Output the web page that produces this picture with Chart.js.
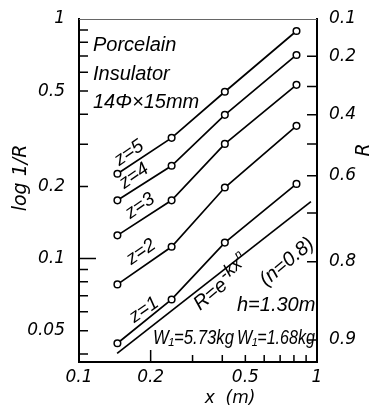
<!DOCTYPE html>
<html><head><meta charset="utf-8">
<script src="https://cdn.jsdelivr.net/npm/chart.js@4"></script>
<style>html,body{margin:0;padding:0;background:#fff}#wrap{width:374px;height:409px;position:relative}</style>
</head><body><div id="wrap"><canvas id="c" width="374" height="409"></canvas></div>
<script>
// ---- data ----
const xValues = [0.145, 0.245, 0.41, 0.82];
const z1 = [0.0443, 0.0675, 0.1166, 0.205];
const z2 = [0.078, 0.112, 0.198, 0.358];
const z3 = [0.125, 0.175, 0.301, 0.531];
const z4 = [0.175, 0.244, 0.398, 0.708];
const z5 = [0.226, 0.319, 0.497, 0.891];
const theoryX = [0.1446, 0.943];
const theoryY = [0.0402, 0.1728];
const seriesNames = ['z = 1', 'z = 2', 'z = 3', 'z = 4', 'z = 5'];
// ---- ticks ----
const xTicks = [0.1, 0.2, 0.3, 0.4, 0.5, 0.6, 0.7, 0.8, 0.9, 1];
const xTickLabels = [0.1, 0.2, 0.5, 1];
const yTicks = [0.04, 0.05, 0.06, 0.07, 0.08, 0.09, 0.1, 0.2, 0.3, 0.4, 0.5, 0.6, 0.7, 0.8, 0.9, 1];
const yTickLabels = [0.05, 0.1, 0.2, 0.5, 1];
const rTicks = [0.1, 0.2, 0.3, 0.4, 0.5, 0.6, 0.7, 0.8, 0.9];
const rTickLabels = [0.1, 0.2, 0.4, 0.6, 0.8, 0.9];
const yMin = 0.037, yMax = 1;

const near = (a, b) => Math.abs(a - b) < 1e-6 * Math.max(1, Math.abs(b));
const pts = arr => arr.map((v, i) => ({x: xValues[i], y: v}));
const tickFont = {family: 'DejaVu Sans', style: 'italic', size: 17};
const annFont = "italic 20px 'Liberation Sans', Arial, sans-serif";

function seriesDs(arr, name) {
  return {label: name, data: pts(arr), showLine: true, borderColor: '#000', borderWidth: 1.7,
    pointRadius: 3.3, pointBackgroundColor: '#fff', pointBorderColor: '#000', pointBorderWidth: 1.5, tension: 0,
    xAxisID: 'x', yAxisID: 'y'};
}

const decor = {
  id: 'decor',
  afterDraw(chart) {
    const ctx = chart.ctx, a = chart.chartArea;
    const xs = chart.scales.x, ys = chart.scales.y;
    ctx.save();
    ctx.strokeStyle = '#000'; ctx.lineWidth = 1.5;
    // inward ticks
    ctx.beginPath();
    xTicks.forEach(v => {
      if (near(v, 0.1) || near(v, 1)) return;
      const px = xs.getPixelForValue(v), len = near(v, 0.2) ? 12 : 7;
      ctx.moveTo(px, a.bottom); ctx.lineTo(px, a.bottom - len);
    });
    yTicks.forEach(v => {
      if (near(v, 1)) return;
      const py = ys.getPixelForValue(v), len = near(v, 0.1) ? 17 : 9;
      ctx.moveTo(a.left, py); ctx.lineTo(a.left + len, py);
    });
    rTicks.forEach(R => {
      if (near(R, 0.1)) return;
      const py = ys.getPixelForValue(Math.log10(1 / R));
      ctx.moveTo(a.right - 10, py); ctx.lineTo(a.right, py);
    });
    ctx.stroke();
    // top frame line
    ctx.strokeStyle = '#666'; ctx.lineWidth = 1;
    ctx.beginPath(); ctx.moveTo(a.left, a.top + 0.5); ctx.lineTo(a.right, a.top + 0.5); ctx.stroke();

    ctx.fillStyle = '#000';
    // axis titles
    ctx.font = "italic 19px 'DejaVu Sans', sans-serif";
    ctx.textAlign = 'center'; ctx.textBaseline = 'middle';
    ctx.save(); ctx.translate(21, 178); ctx.rotate(-Math.PI / 2); ctx.fillText('log 1/R', 0, 0); ctx.restore();
    ctx.save(); ctx.translate(364, 150); ctx.rotate(-Math.PI / 2); ctx.fillText('R', 0, 0); ctx.restore();
    ctx.font = "italic 17px 'DejaVu Sans', sans-serif";
    ctx.fillText('x  (m)', 230, 399);

    // text block
    ctx.font = annFont; ctx.textAlign = 'left'; ctx.textBaseline = 'alphabetic';
    ctx.fillText('Porcelain', 93, 51);
    ctx.fillText('Insulator', 93, 80);
    ctx.fillText('14\u03A6\u00D715mm', 93, 108);
    ctx.fillText('h=1.30m', 237, 311);
    ctx.fillText('W\u2081=5.73kg', 153, 344, 81);
    ctx.fillText('W\u2081=1.68kg', 237, 344, 78);

    // series labels along lines
    const zPos = [[144, 310], [141, 252], [140, 206], [134, 176], [129, 153]];
    ctx.font = "italic 19px 'Liberation Sans', Arial, sans-serif";
    ctx.textAlign = 'center'; ctx.textBaseline = 'middle';
    seriesNames.forEach((n, i) => {
      ctx.save(); ctx.translate(zPos[i][0], zPos[i][1]); ctx.rotate(-35 * Math.PI / 180);
      ctx.fillText(n.replace(/ /g, ''), 0, 0); ctx.restore();
    });
    // formula
    ctx.save(); ctx.translate(200, 311); ctx.rotate(-40 * Math.PI / 180);
    ctx.textAlign = 'left'; ctx.textBaseline = 'alphabetic';
    ctx.font = annFont; ctx.fillText('R=e', 0, 0);
    let w = ctx.measureText('R=e').width + 1;
    ctx.font = "italic 18px 'Liberation Sans', Arial, sans-serif"; ctx.fillText('-kx', w, -7);
    w += ctx.measureText('-kx').width;
    ctx.font = "italic 12px 'Liberation Sans', Arial, sans-serif"; ctx.fillText('n', w, -15);
    ctx.restore();
    ctx.save(); ctx.translate(287, 262); ctx.rotate(-40 * Math.PI / 180);
    ctx.font = annFont; ctx.textAlign = 'center'; ctx.textBaseline = 'middle';
    ctx.fillText('(n=0.8)', 0, 0); ctx.restore();
    ctx.restore();
  }
};

new Chart(document.getElementById('c'), {
  type: 'line',
  data: {
    datasets: [
      seriesDs(z1, seriesNames[0]), seriesDs(z2, seriesNames[1]), seriesDs(z3, seriesNames[2]),
      seriesDs(z4, seriesNames[3]), seriesDs(z5, seriesNames[4]),
      {label: 'R=e^-kx^n', data: theoryX.map((x, i) => ({x, y: theoryY[i]})), showLine: true,
       borderColor: '#000', borderWidth: 1.7, pointRadius: 0, tension: 0, xAxisID: 'x', yAxisID: 'y'}
    ]
  },
  options: {
    responsive: false, animation: false, devicePixelRatio: 1,
    layout: {padding: {top: 19, left: 0, right: 0, bottom: 0}},
    plugins: {legend: {display: false}, tooltip: {enabled: false}, title: {display: false}},
    scales: {
      x: {
        type: 'logarithmic', position: 'bottom', min: 0.1, max: 1,
        afterFit: s => { s.height = 47; },
        afterBuildTicks: s => { s.ticks = xTicks.map(v => ({value: v})); },
        grid: {display: false}, border: {display: true, color: '#000', width: 2},
        ticks: {autoSkip: false, maxRotation: 0, color: '#000', font: tickFont, padding: -3,
          callback: v => xTickLabels.some(t => near(t, v)) ? String(v) : ''}
      },
      y: {
        type: 'logarithmic', position: 'left', min: yMin, max: yMax,
        afterFit: s => { s.width = 79; },
        afterBuildTicks: s => { s.ticks = yTicks.map(v => ({value: v})); },
        grid: {display: false}, border: {display: true, color: '#000', width: 2},
        ticks: {autoSkip: false, color: '#000', font: tickFont, padding: 6,
          callback: v => yTickLabels.some(t => near(t, v)) ? String(v) : ''}
      },
      r: {
        type: 'logarithmic', position: 'right', min: yMin, max: yMax,
        afterFit: s => { s.width = 57; },
        afterBuildTicks: s => { s.ticks = rTicks.map(R => ({value: Math.log10(1 / R)})); },
        grid: {display: false}, border: {display: true, color: '#000', width: 2},
        ticks: {autoSkip: false, color: '#000', font: tickFont, padding: 4,
          callback: v => { const R = Math.round(10 / Math.pow(10, v)) / 10; return rTickLabels.some(t => near(t, R)) ? String(R) : ''; }}
      }
    }
  },
  plugins: [decor]
});
</script></body></html>
